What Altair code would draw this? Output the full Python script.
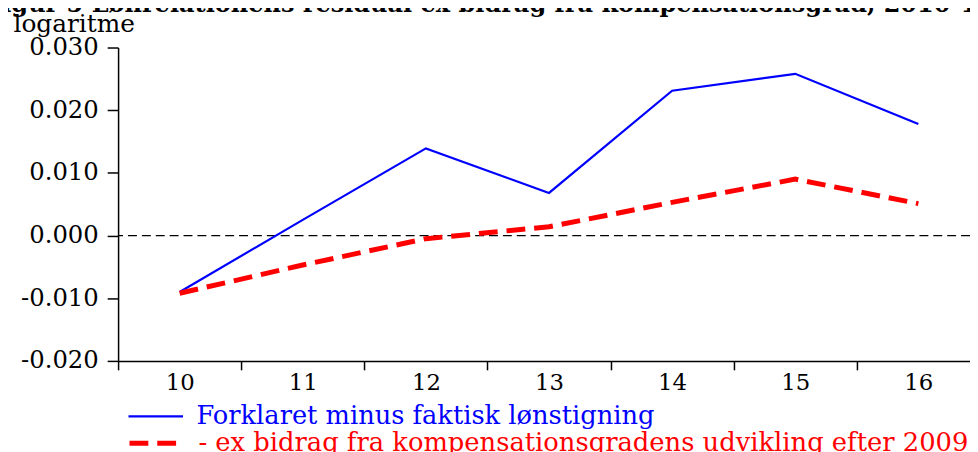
import altair as alt
import pandas as pd

years = ["10", "11", "12", "13", "14", "15", "16"]
forklaret = [-0.0090, 0.0025, 0.0139, 0.0068, 0.0231, 0.0258, 0.0178]
ex_bidrag = [-0.0092, -0.0047, -0.0005, 0.0014, 0.0053, 0.0090, 0.0051]
y_ticks = [-0.02, -0.01, 0.0, 0.01, 0.02, 0.03]
label_blue = "Forklaret minus faktisk lønstigning"
label_red = "- ex bidrag fra kompensationsgradens udvikling efter 2009"
title_text = "Figur 5 Lønrelationens residual ex bidrag fra kompensationsgrad, 2010-16"
y_title = "logaritme"

FONT = "DejaVu Serif"

df_blue = pd.DataFrame({"year": years, "value": forklaret, "sa": [label_blue] * len(years)})
df_red = pd.DataFrame({"year": years, "value": ex_bidrag, "sb": [label_red] * len(years)})
df_zero = pd.DataFrame({"v": [0.0]})

x_enc = alt.X(
    "year:O",
    sort=years,
    bandPosition=0.5,
    scale=alt.Scale(type="band", domain=years, range=[0, 869], paddingInner=0, paddingOuter=0),
    axis=alt.Axis(
        title=None,
        tickBand="extent",
        labelAngle=0,
        labelFont=FONT,
        labelFontSize=23,
        labelColor="black",
        tickSize=9,
        labelPadding=2,
        grid=False,
    ),
)

y_enc = alt.Y(
    "value:Q",
    scale=alt.Scale(domain=[-0.02, 0.03], nice=False, zero=False),
    axis=alt.Axis(
        title=y_title,
        titleAngle=0,
        titleX=-106,
        titleY=-16,
        titleAlign="left",
        titleBaseline="alphabetic",
        titleFont=FONT,
        titleFontSize=25,
        titleFontWeight="normal",
        titleColor="black",
        values=y_ticks,
        labelExpr="datum.value < 0 ? '-' + format(-datum.value, '.3f') : format(datum.value, '.3f')",
        labelFont=FONT,
        labelFontSize=24.5,
        labelColor="black",
        tickSize=11,
        labelPadding=9,
        grid=False,
    ),
)

zero = alt.Chart(df_zero).mark_rule(color="black", strokeDash=[9, 5], strokeWidth=1.2).encode(
    y=alt.Y("v:Q", scale=alt.Scale(domain=[-0.02, 0.03], nice=False, zero=False))
)

blue = alt.Chart(df_blue).mark_line(strokeWidth=2.2).encode(
    x=x_enc,
    y=y_enc,
    color=alt.Color(
        "sa:N",
        scale=alt.Scale(domain=[label_blue], range=["#0000ff"]),
        legend=alt.Legend(
            title=None,
            orient="none",
            legendX=9,
            legendY=343,
            symbolType="stroke",
            symbolSize=3025,
            symbolStrokeWidth=2.2,
            labelFont=FONT,
            labelFontSize=25.9,
            labelColor="#0000ff",
            labelOffset=12,
            labelLimit=2000,
            padding=0,
        ),
    ),
)

red = alt.Chart(df_red).mark_line(strokeWidth=5, color="#ff0000").encode(
    x=x_enc,
    y=y_enc,
    strokeDash=alt.StrokeDash(
        "sb:N",
        scale=alt.Scale(domain=[label_red], range=[[19, 9]]),
        legend=alt.Legend(
            title=None,
            orient="none",
            legendX=9,
            legendY=369,
            symbolType="stroke",
            symbolSize=3025,
            symbolStrokeWidth=5,
            symbolStrokeColor="#ff0000",
            labelFont=FONT,
            labelFontSize=26.0,
            labelColor="#ff0000",
            labelOffset=12,
            labelLimit=2000,
            padding=0,
        ),
    ),
)

chart = (
    alt.layer(zero, blue, red)
    .properties(
        width=859,
        height=316,
        autosize=alt.AutoSizeParams(type="none"),
        padding={"left": 111, "top": 38, "right": 0, "bottom": 90},
        title=alt.TitleParams(
            text=title_text,
            anchor="start",
            frame="group",
            font=FONT,
            fontWeight="bold",
            fontSize=24.2,
            color="black",
            dx=-134,
            dy=5,
            offset=0,
        ),
    )
    .configure_view(stroke=None)
    .configure_axis(domainColor="black", domainWidth=1.5, tickColor="black", tickWidth=1.5)
)

chart.save("out.html", embed_options={"renderer": "svg", "actions": False})
